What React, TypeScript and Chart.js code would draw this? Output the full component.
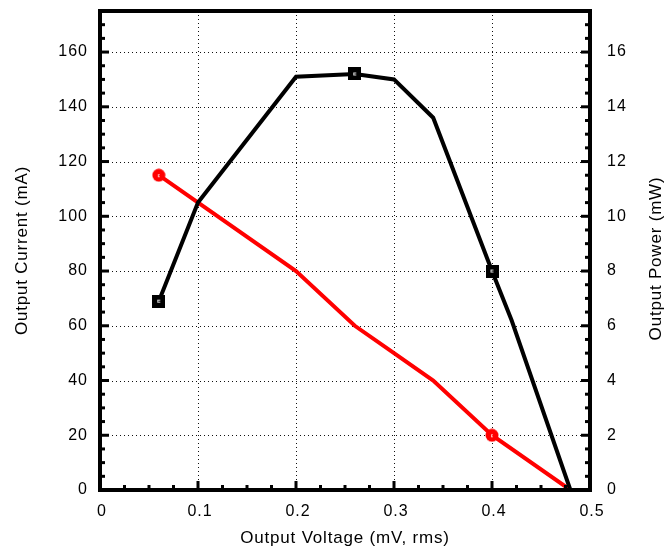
import { useEffect, useRef } from "react";
import { Chart, registerables } from "chart.js";

Chart.register(...registerables);

// Output power curve (right axis, mW) against output voltage
const powerVoltage = [0.06, 0.1, 0.2, 0.26, 0.3, 0.34, 0.4, 0.42, 0.48];
const powerMw = [6.9, 10.5, 15.1, 15.2, 15.0, 13.6, 8.0, 6.2, 0];
const powerMarkerAt = [0.06, 0.26, 0.4];

// Output current curve (left axis, mA) against output voltage
const currentVoltage = [0.06, 0.2, 0.26, 0.3, 0.34, 0.4, 0.48];
const currentMa = [115, 80, 60, 50, 40, 20, 0];
const currentMarkerAt = [0.06, 0.4];

// Axis ticks
const voltageTicks = [0, 0.1, 0.2, 0.3, 0.4, 0.5];
const voltageTickLabels = ["0", "0.1", "0.2", "0.3", "0.4", "0.5"];
const currentTicks = [0, 20, 40, 60, 80, 100, 120, 140, 160];
const powerTicks = [0, 2, 4, 6, 8, 10, 12, 14, 16];

const xTitle = "Output Voltage (mV, rms)";
const yTitle = "Output Current (mA)";
const y1Title = "Output Power (mW)";

const FONT = "'Liberation Sans', Arial, Helvetica, sans-serif";

function squareMarker(): HTMLCanvasElement {
  const c = document.createElement("canvas");
  c.width = 13;
  c.height = 13;
  const g = c.getContext("2d")!;
  g.fillStyle = "#000";
  g.fillRect(0, 0, 13, 13);
  g.fillStyle = "rgba(255,255,255,0.85)";
  g.fillRect(5, 5, 3, 1);
  g.fillRect(5, 5, 1, 3);
  g.fillRect(5, 7, 3, 1);
  return c;
}

function circleMarker(): HTMLCanvasElement {
  const c = document.createElement("canvas");
  c.width = 14;
  c.height = 14;
  const g = c.getContext("2d")!;
  g.fillStyle = "#ff0000";
  g.beginPath();
  g.arc(7, 7, 6.5, 0, Math.PI * 2);
  g.fill();
  g.fillStyle = "rgba(255,190,190,0.9)";
  g.fillRect(6, 6, 2, 1);
  g.fillRect(6, 6, 1, 3);
  g.fillRect(6, 8, 2, 1);
  return c;
}

const fixTicks = (values: number[]) => (scale: any) => {
  scale.ticks = values.map((v) => ({ value: v }));
};

const framePlugin = {
  id: "frameAndGrid",
  beforeDraw(chart: any) {
    (chart.ctx as any).letterSpacing = "1px";
  },
  beforeDatasetsDraw(chart: any) {
    const { ctx, chartArea: a, scales } = chart;
    ctx.save();
    (ctx as any).letterSpacing = "0px";
    ctx.strokeStyle = "#111";
    ctx.lineWidth = 1;
    ctx.setLineDash([1, 3]);
    voltageTicks.forEach((v) => {
      if (v <= 0 || v >= 0.5) return;
      const x = Math.round(scales.x.getPixelForValue(v)) + 0.5;
      ctx.beginPath();
      ctx.moveTo(x, a.top);
      ctx.lineTo(x, a.bottom);
      ctx.stroke();
    });
    currentTicks.forEach((v) => {
      if (v <= 0) return;
      const y = Math.round(scales.y.getPixelForValue(v)) + 0.5;
      ctx.beginPath();
      ctx.moveTo(a.left, y);
      ctx.lineTo(a.right, y);
      ctx.stroke();
    });
    ctx.restore();
  },
  afterDatasetsDraw(chart: any) {
    const { ctx, chartArea: a, scales } = chart;
    ctx.save();
    ctx.setLineDash([]);
    ctx.strokeStyle = "#000";
    ctx.lineWidth = 3;
    ctx.lineCap = "butt";
    const major = 9;
    const minor = 5;
    // bottom ticks every 0.025, major every 0.1
    for (let i = 1; i < 20; i++) {
      const x = scales.x.getPixelForValue(i * 0.025);
      const len = i % 4 === 0 ? major : minor;
      ctx.beginPath();
      ctx.moveTo(x, a.bottom);
      ctx.lineTo(x, a.bottom - len);
      ctx.stroke();
    }
    // left ticks every 5 mA, major every 20
    for (let i = 1; i < 35; i++) {
      const y = scales.y.getPixelForValue(i * 5);
      const len = i % 4 === 0 ? major : minor;
      ctx.beginPath();
      ctx.moveTo(a.left, y);
      ctx.lineTo(a.left + len, y);
      ctx.stroke();
    }
    // right ticks every 0.5 mW, major every 2
    for (let i = 1; i < 35; i++) {
      const y = scales.y1.getPixelForValue(i * 0.5);
      const len = i % 4 === 0 ? major : minor;
      ctx.beginPath();
      ctx.moveTo(a.right, y);
      ctx.lineTo(a.right - len, y);
      ctx.stroke();
    }
    ctx.lineWidth = 4;
    ctx.lineJoin = "miter";
    ctx.strokeRect(a.left, a.top, a.right - a.left, a.bottom - a.top);
    ctx.restore();
  },
  afterDraw(chart: any) {
    const { ctx, chartArea: a } = chart;
    ctx.save();
    (ctx as any).letterSpacing = "0.8px";
    ctx.fillStyle = "#000";
    ctx.font = `17px ${FONT}`;
    ctx.textAlign = "center";
    ctx.textBaseline = "middle";
    ctx.fillText(xTitle, (a.left + a.right) / 2, 538);
    const cy = (a.top + a.bottom) / 2;
    ctx.save();
    ctx.translate(22, cy);
    ctx.rotate(-Math.PI / 2);
    ctx.fillText(yTitle, 0, 0);
    ctx.restore();
    ctx.save();
    ctx.translate(656, cy + 8);
    ctx.rotate(-Math.PI / 2);
    ctx.fillText(y1Title, 0, 0);
    ctx.restore();
    ctx.restore();
  },
};

export default function App() {
  const ref = useRef<HTMLCanvasElement | null>(null);

  useEffect(() => {
    if (!ref.current) return;
    const sq = squareMarker();
    const dot = circleMarker();

    const chart = new Chart(ref.current, {
      type: "line",
      data: {
        datasets: [
          {
            label: "Output Power",
            data: powerVoltage.map((v, i) => ({ x: v, y: powerMw[i] })),
            yAxisID: "y1",
            borderColor: "#000",
            backgroundColor: "#000",
            borderWidth: 4,
            pointStyle: sq as any,
            pointRadius: (c: any) => (powerMarkerAt.includes(powerVoltage[c.dataIndex]) ? 7 : 0),
            pointHoverRadius: 0,
            tension: 0,
            order: 0,
          },
          {
            label: "Output Current",
            data: currentVoltage.map((v, i) => ({ x: v, y: currentMa[i] })),
            yAxisID: "y",
            borderColor: "#ff0000",
            backgroundColor: "#ff0000",
            borderWidth: 4,
            pointStyle: dot as any,
            pointRadius: (c: any) => (currentMarkerAt.includes(currentVoltage[c.dataIndex]) ? 7 : 0),
            pointHoverRadius: 0,
            tension: 0,
            order: 1,
          },
        ],
      },
      options: {
        animation: false,
        responsive: false,
        devicePixelRatio: 1,
        events: [],
        layout: { padding: { top: 6, left: 0, right: 0, bottom: 0 } },
        plugins: {
          legend: { display: false },
          tooltip: { enabled: false },
        },
        scales: {
          x: {
            type: "linear",
            min: 0,
            max: 0.5,
            grid: { display: false, drawTicks: false },
            border: { display: false },
            afterBuildTicks: fixTicks(voltageTicks),
            afterFit: (s: any) => {
              s.height = 63;
              s.paddingLeft = 0;
              s.paddingRight = 0;
            },
            ticks: {
              color: "#000",
              padding: 12,
              labelOffset: 2,
              maxRotation: 0,
              autoSkip: false,
              font: { family: FONT, size: 16 },
              callback: (_v: any, i: number) => voltageTickLabels[i],
            },
          },
          y: {
            type: "linear",
            position: "left",
            min: 0,
            max: 175,
            grid: { display: false, drawTicks: false },
            border: { display: false },
            afterBuildTicks: fixTicks(currentTicks),
            afterFit: (s: any) => {
              s.width = 100;
              s.paddingTop = 0;
              s.paddingBottom = 0;
            },
            ticks: {
              color: "#000",
              padding: 12,
              autoSkip: false,
              font: { family: FONT, size: 16 },
              callback: (v: any) => String(v),
            },
          },
          y1: {
            type: "linear",
            position: "right",
            min: 0,
            max: 17.5,
            grid: { display: false, drawTicks: false },
            border: { display: false },
            afterBuildTicks: fixTicks(powerTicks),
            afterFit: (s: any) => {
              s.width = 75;
              s.paddingTop = 0;
              s.paddingBottom = 0;
            },
            ticks: {
              color: "#000",
              padding: 17,
              autoSkip: false,
              font: { family: FONT, size: 16 },
              callback: (v: any) => String(v),
            },
          },
        },
      },
      plugins: [framePlugin],
    });

    return () => chart.destroy();
  }, []);

  return (
    <div style={{ position: "absolute", left: 0, top: 0, width: 665, height: 553, background: "#fff" }}>
      <canvas ref={ref} width={665} height={553} style={{ width: 665, height: 553, display: "block" }} />
    </div>
  );
}
